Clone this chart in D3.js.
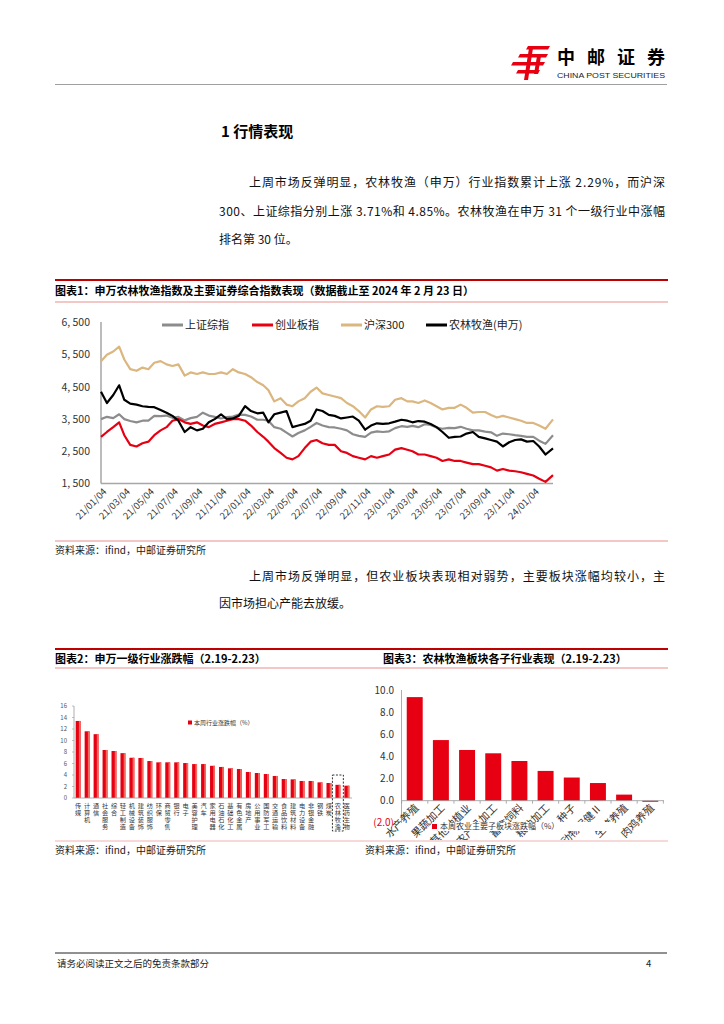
<!DOCTYPE html>
<html><head><meta charset="utf-8">
<script src="https://cdn.jsdelivr.net/npm/d3@7"></script>
<style>
html,body{margin:0;padding:0;background:#fff;}
svg{display:block;font-family:"Noto Sans CJK SC","Noto Sans",sans-serif;}
</style></head><body>
<svg id="page" width="724" height="1024"></svg>
<script>
// ---------- Chart 1 data ----------
const dates = ["2021-01-04","2021-01-19","2021-02-04","2021-02-19","2021-03-04","2021-03-19","2021-04-04","2021-04-19","2021-05-04","2021-05-19",
"2021-06-04","2021-06-19","2021-07-04","2021-07-19","2021-08-04","2021-08-19","2021-09-04","2021-09-19","2021-10-04","2021-10-19",
"2021-11-04","2021-11-19","2021-12-04","2021-12-19","2022-01-04","2022-01-19","2022-02-04","2022-02-19","2022-03-04","2022-03-19",
"2022-04-04","2022-04-19","2022-05-04","2022-05-19","2022-06-04","2022-06-19","2022-07-04","2022-07-19","2022-08-04","2022-08-19",
"2022-09-04","2022-09-19","2022-10-04","2022-10-19","2022-11-04","2022-11-19","2022-12-04","2022-12-19","2023-01-04","2023-01-19",
"2023-02-04","2023-02-19","2023-03-04","2023-03-19","2023-04-04","2023-04-19","2023-05-04","2023-05-19","2023-06-04","2023-06-19",
"2023-07-04","2023-07-19","2023-08-04","2023-08-19","2023-09-04","2023-09-19","2023-10-04","2023-10-19","2023-11-04","2023-11-19",
"2023-12-04","2023-12-19","2024-01-04","2024-01-19","2024-02-04","2024-02-23"];
const seriesNames = ["上证综指","创业板指","沪深300","农林牧渔(申万)"];
const shanghai = [3500,3570,3530,3650,3500,3440,3400,3450,3450,3600,
 3590,3610,3540,3570,3460,3530,3570,3700,3610,3570,
 3520,3560,3580,3640,3630,3580,3480,3480,3450,3250,
 3200,3080,2960,3070,3150,3260,3380,3300,3250,3240,
 3200,3150,3030,2980,2950,3080,3120,3100,3120,3220,
 3280,3260,3290,3250,3340,3320,3240,3200,3230,3220,
 3260,3200,3150,3150,3110,3090,2980,3050,3030,3000,
 2980,2950,2950,2830,2730,3000];
const chinext = [2950,3100,3250,3400,3000,2700,2650,2750,2800,3000,
 3150,3250,3450,3500,3400,3350,3400,3300,3250,3350,
 3400,3450,3500,3500,3450,3300,3100,2950,2800,2600,
 2450,2300,2250,2350,2600,2800,2850,2750,2700,2700,
 2500,2450,2350,2300,2250,2350,2300,2350,2400,2550,
 2600,2550,2500,2400,2400,2350,2300,2200,2250,2200,
 2200,2150,2100,2100,2050,2000,1900,1950,1900,1880,
 1850,1800,1750,1650,1550,1760];
const csi300 = [5300,5500,5600,5750,5350,5050,5000,5100,5050,5250,
 5300,5200,5150,5200,4850,4950,4900,4950,4900,4900,
 4950,4900,5050,4950,4900,4800,4650,4550,4400,4050,
 4150,3950,3900,4050,4150,4350,4480,4300,4250,4200,
 4150,4000,3900,3750,3550,3800,3900,3880,3900,4100,
 4150,4050,4050,4000,4080,4000,3900,3800,3850,3850,
 3950,3850,3700,3720,3720,3630,3550,3600,3550,3500,
 3450,3380,3380,3300,3200,3490];
const agri = [4350,4000,4250,4550,4100,3980,3950,3900,3880,3870,
 3780,3700,3600,3450,3100,3250,3150,3200,3400,3500,
 3650,3500,3520,3600,3900,3750,3680,3700,3400,3650,
 3700,3750,3250,3300,3350,3450,3800,3750,3630,3600,
 3520,3550,3580,3450,3170,3300,3370,3350,3370,3420,
 3480,3450,3400,3440,3420,3350,3250,3100,2920,2950,
 2960,3050,3100,2950,2900,2850,2800,2650,2780,2850,
 2870,2800,2820,2650,2400,2590];
const yTicks1 = [1500,2500,3500,4500,5500,6500];
const xTickDates = ["2021-01-04","2021-03-04","2021-05-04","2021-07-04","2021-09-04","2021-11-04","2022-01-04","2022-03-04","2022-05-04","2022-07-04","2022-09-04","2022-11-04","2023-01-04","2023-03-04","2023-05-04","2023-07-04","2023-09-04","2023-11-04","2024-01-04"];

// ---------- Chart 2 data ----------
const industries = ["传媒","计算机","通信","社会服务","综合","轻工制造","机械设备","建筑装饰","纺织服饰","环保","商贸零售","银行","电子","美容护理","汽车","家用电器","石油石化","基础化工","有色金属","房地产","公用事业","国防军工","交通运输","食品饮料","建筑材料","电力设备","非银金融","钢铁","煤炭","农林牧渔","医药生物"];
const industryChg = [13.4,11.6,11.1,8.35,8.17,7.8,7.0,6.96,6.43,6.2,6.2,6.2,6.08,5.9,5.9,5.6,5.4,5.16,5.04,4.52,4.35,4.17,3.83,3.3,3.24,2.96,2.96,2.72,2.61,2.29,2.14];
const yTicks2 = [0,2,4,6,8,10,12,14,16];

// ---------- Chart 3 data ----------
const subSectors = ["水产养殖","果蔬加工","其他种植业","其他农产品加工","畜禽饲料","粮油加工","种子","动物保健Ⅱ","生猪养殖","肉鸡养殖"];
const subChg = [9.4,5.5,4.6,4.3,3.6,2.7,2.1,1.6,0.55,-0.1];
const yTicks3 = [-2,0,2,4,6,8,10];

const RED = "#e60012";
const svg = d3.select("#page");
const parse = d3.timeParse("%Y-%m-%d");

// ---------- Header ----------
const logo = svg.append("g").attr("fill", RED);
[[528,46,550,3.5],[520,54,548,3.5],[513,62,545,3.5],[518,70,540,3.5]].forEach(([x1,y,x2,h])=>{
  logo.append("path").attr("d",`M${x1},${y}L${x2},${y}L${x2-2},${y+h}L${x1-2},${y+h}Z`);
});
logo.append("path").attr("d","M529,48L533,48L528,80L524,80Z");
logo.append("path").attr("d","M537,56L541,56L538,74L534,74Z");
svg.append("text").attr("x",557).attr("y",64).attr("font-size",18).attr("font-weight",700)
  .attr("textLength",108).attr("lengthAdjust","spacing").text("中邮证券");
svg.append("text").attr("x",557).attr("y",78).attr("font-size",7.2).attr("fill","#222")
  .attr("font-family","Liberation Sans, Arial, sans-serif")
  .attr("textLength",108).attr("lengthAdjust","spacingAndGlyphs").text("CHINA POST SECURITIES");
svg.append("line").attr("x1",55).attr("x2",667).attr("y1",84.5).attr("y2",84.5).attr("stroke","#888").attr("stroke-width",0.8);

// ---------- Section title and paragraph ----------
svg.append("text").attr("x",221).attr("y",137).attr("font-size",15).attr("font-weight",700).text("1 行情表现");
const body = [
  {x:249,y:187,t:"上周市场反弹明显，农林牧渔（申万）行业指数累计上涨 2.29%，而沪深",w:416},
  {x:219,y:216,t:"300、上证综指分别上涨 3.71%和 4.85%。农林牧渔在申万 31 个一级行业中涨幅",w:446},
  {x:219,y:244,t:"排名第 30 位。"},
  {x:249,y:581,t:"上周市场反弹明显，但农业板块表现相对弱势，主要板块涨幅均较小，主",w:416},
  {x:219,y:608,t:"因市场担心产能去放缓。"}
];
body.forEach(b=>{
  const t = svg.append("text").attr("x",b.x).attr("y",b.y).attr("font-size",12).attr("fill","#111").text(b.t);
  if(b.w) t.attr("textLength",b.w).attr("lengthAdjust","spacing");
});

// ---------- Title bars ----------
function titleBar(yTop, yBot){
  svg.append("line").attr("x1",55).attr("x2",668).attr("y1",yTop).attr("y2",yTop).attr("stroke","#c00000").attr("stroke-width",2);
  svg.append("line").attr("x1",55).attr("x2",668).attr("y1",yBot).attr("y2",yBot).attr("stroke","#f0b4b4").attr("stroke-width",1.5);
}
titleBar(280, 302);
svg.append("text").attr("x",55).attr("y",295).attr("font-size",11).attr("font-weight",700)
  .text("图表1：申万农林牧渔指数及主要证券综合指数表现（数据截止至 2024 年 2 月 23 日）");
titleBar(649, 668);
svg.append("text").attr("x",55).attr("y",663).attr("font-size",11).attr("font-weight",700).text("图表2：申万一级行业涨跌幅（2.19-2.23）");
svg.append("text").attr("x",383).attr("y",663).attr("font-size",11).attr("font-weight",700).text("图表3：农林牧渔板块各子行业表现（2.19-2.23）");

// sources
svg.append("line").attr("x1",55).attr("x2",668).attr("y1",541).attr("y2",541).attr("stroke","#f0b4b4").attr("stroke-width",1.5);
svg.append("text").attr("x",55).attr("y",554).attr("font-size",10).attr("fill","#222").text("资料来源：ifind，中邮证券研究所");
svg.append("line").attr("x1",55).attr("x2",668).attr("y1",841).attr("y2",841).attr("stroke","#f0b4b4").attr("stroke-width",1.2);
svg.append("text").attr("x",55).attr("y",854).attr("font-size",10).attr("fill","#222").text("资料来源：ifind，中邮证券研究所");
svg.append("text").attr("x",365).attr("y",854).attr("font-size",10).attr("fill","#222").text("资料来源：ifind，中邮证券研究所");

// footer
svg.append("line").attr("x1",55).attr("x2",667).attr("y1",953).attr("y2",953).attr("stroke","#222").attr("stroke-width",1);
svg.append("text").attr("x",57).attr("y",967).attr("font-size",9.5).attr("fill","#222").text("请务必阅读正文之后的免责条款部分");
svg.append("text").attr("x",646).attr("y",967).attr("font-size",9.5).attr("fill","#222").text("4");

// ---------- Chart 1 ----------
(function(){
  const x = d3.scaleTime().domain([parse("2021-01-04"), parse("2024-02-23")]).range([101, 553]);
  const y = d3.scaleLinear().domain([1500, 6500]).range([483.5, 322.5]);
  const g = svg.append("g");
  const fmt = v => d3.format(",")(v).replace(",", ", ");
  g.selectAll(".yl").data(yTicks1).join("text")
    .attr("x",90).attr("y",d=>y(d)).attr("dy","0.35em").attr("text-anchor","end")
    .attr("font-size",10.5).attr("fill","#333").text(fmt);
  g.append("line").attr("x1",101).attr("x2",101).attr("y1",322).attr("y2",483.5).attr("stroke","#a6a6a6").attr("stroke-width",1.5);
  g.append("line").attr("x1",101).attr("x2",553).attr("y1",483.5).attr("y2",483.5).attr("stroke","#a6a6a6").attr("stroke-width",1.5);
  g.selectAll(".xl").data(xTickDates.map(parse)).join("text")
    .attr("transform",d=>`translate(${x(d)+4},490) rotate(-45)`)
    .attr("text-anchor","end").attr("dy","0.35em").attr("font-size",9.5).attr("fill","#333")
    .text(d3.timeFormat("%y/%m/%d"));
  const dd = dates.map(parse);
  const line = d3.line().x((d,i)=>x(dd[i])).y(d=>y(d));
  const series = [
    {name:seriesNames[0], vals:shanghai, color:"#8c8c8c"},
    {name:seriesNames[1], vals:chinext, color:RED},
    {name:seriesNames[2], vals:csi300, color:"#dbb67f"},
    {name:seriesNames[3], vals:agri, color:"#000"}
  ];
  series.forEach(s=>{
    g.append("path").datum(s.vals).attr("d",line).attr("fill","none").attr("stroke",s.color)
      .attr("stroke-width",2.2).attr("stroke-linejoin","round");
  });
  const lx = [162, 252, 341, 426];
  series.forEach((s,i)=>{
    g.append("line").attr("x1",lx[i]).attr("x2",lx[i]+21).attr("y1",325).attr("y2",325).attr("stroke",s.color).attr("stroke-width",3);
    g.append("text").attr("x",lx[i]+23).attr("y",325).attr("dy","0.36em").attr("font-size",11).attr("fill","#222").text(s.name);
  });
})();

// ---------- Chart 2 ----------
(function(){
  const x = d3.scaleBand().domain(industries).range([73, 352]).paddingInner(0.45).paddingOuter(0.3);
  const y = d3.scaleLinear().domain([0, 16]).range([798, 706]);
  const g = svg.append("g");
  g.selectAll(".yl").data(yTicks2).join("text").attr("x",67).attr("y",d=>y(d)).attr("dy","0.35em")
    .attr("text-anchor","end").attr("font-size",6).attr("fill","#555").text(d=>d);
  g.selectAll(".yt").data(yTicks2).join("line").attr("x1",72).attr("x2",74).attr("y1",d=>y(d)).attr("y2",d=>y(d)).attr("stroke","#999").attr("stroke-width",0.6);
  g.selectAll("rect.b").data(industryChg).join("rect")
    .attr("x",(d,i)=>x(industries[i])).attr("width",x.bandwidth())
    .attr("y",d=>y(d)).attr("height",d=>y(0)-y(d)).attr("fill",RED);
  g.selectAll("rect.h").data(industryChg).join("rect")
    .attr("x",(d,i)=>x(industries[i])+x.bandwidth()*0.65).attr("width",x.bandwidth()*0.35)
    .attr("y",d=>y(d)).attr("height",d=>y(0)-y(d)).attr("fill","#ef6a5f");
  g.append("line").attr("x1",74).attr("x2",74).attr("y1",706).attr("y2",798).attr("stroke","#999").attr("stroke-width",0.8);
  g.append("line").attr("x1",74).attr("x2",352).attr("y1",798).attr("y2",798).attr("stroke","#999").attr("stroke-width",0.8);
  industries.forEach(name=>{
    const cx = x(name) + x.bandwidth()/2;
    Array.from(name).forEach((ch,k)=>{
      g.append("text").attr("x",cx).attr("y",808+k*7).attr("text-anchor","middle").attr("font-size",6.2).attr("fill","#333").text(ch);
    });
  });
  const hi = industries.indexOf("农林牧渔");
  const bx = x(industries[hi]);
  g.append("rect").attr("x",bx-3).attr("y",775).attr("width",x.bandwidth()+6).attr("height",56)
    .attr("fill","none").attr("stroke","#000").attr("stroke-width",0.8).attr("stroke-dasharray","2,1.5");
  g.append("rect").attr("x",188).attr("y",720.5).attr("width",4).attr("height",4).attr("fill",RED);
  g.append("text").attr("x",194).attr("y",722.5).attr("dy","0.35em").attr("font-size",6).attr("fill","#333").text("本周行业涨跌幅（%）");
})();

// ---------- Chart 3 ----------
(function(){
  const x = d3.scaleBand().domain(subSectors).range([401.5, 663.5]).paddingInner(0.39).paddingOuter(0.2);
  const y = d3.scaleLinear().domain([-2, 10]).range([822.7, 690.5]);
  svg.append("clipPath").attr("id","c3").append("rect").attr("x",355).attr("y",680).attr("width",330).attr("height",160);
  const g = svg.append("g").attr("clip-path","url(#c3)");
  g.selectAll(".yl").data(yTicks3).join("text").attr("x",394).attr("y",d=>y(d)).attr("dy","0.35em")
    .attr("text-anchor","end").attr("font-size",10).attr("fill",d=>d<0?RED:"#333")
    .text(d=> d<0 ? "(" + d3.format(".1f")(-d) + ")" : d3.format(".1f")(d));
  g.selectAll("rect.b").data(subChg).join("rect")
    .attr("x",(d,i)=>x(subSectors[i])).attr("width",x.bandwidth())
    .attr("y",d=>y(Math.max(0,d))).attr("height",d=>Math.abs(y(d)-y(0))).attr("fill",RED);
  g.append("line").attr("x1",401.5).attr("x2",401.5).attr("y1",690).attr("y2",823).attr("stroke","#999").attr("stroke-width",0.8);
  g.append("line").attr("x1",401.5).attr("x2",664).attr("y1",y(0)).attr("y2",y(0)).attr("stroke","#999").attr("stroke-width",0.8);
  const step = x.step();
  g.selectAll(".tk").data(d3.range(subSectors.length+1)).join("line")
    .attr("x1",i=>x(subSectors[0]) - (step - x.bandwidth())/2 + i*step)
    .attr("x2",i=>x(subSectors[0]) - (step - x.bandwidth())/2 + i*step)
    .attr("y1",y(0)).attr("y2",y(0)+3).attr("stroke","#999").attr("stroke-width",0.8);
  g.selectAll(".xl").data(subSectors).join("text")
    .attr("transform",d=>`translate(${x(d)+x.bandwidth()/2+2},806) rotate(-45)`)
    .attr("text-anchor","end").attr("dy","0.35em").attr("font-size",10.5).attr("fill","#333").text(d=>d);
  g.append("rect").attr("x",438).attr("y",822).attr("width",176).attr("height",9).attr("fill","#fff");
  g.append("rect").attr("x",432).attr("y",824).attr("width",5).attr("height",5).attr("fill",RED);
  g.append("text").attr("x",440).attr("y",826.5).attr("dy","0.35em").attr("font-size",8).attr("fill","#333").text("本周农业主要子板块涨跌幅（%）");
})();
</script>
</body></html>
